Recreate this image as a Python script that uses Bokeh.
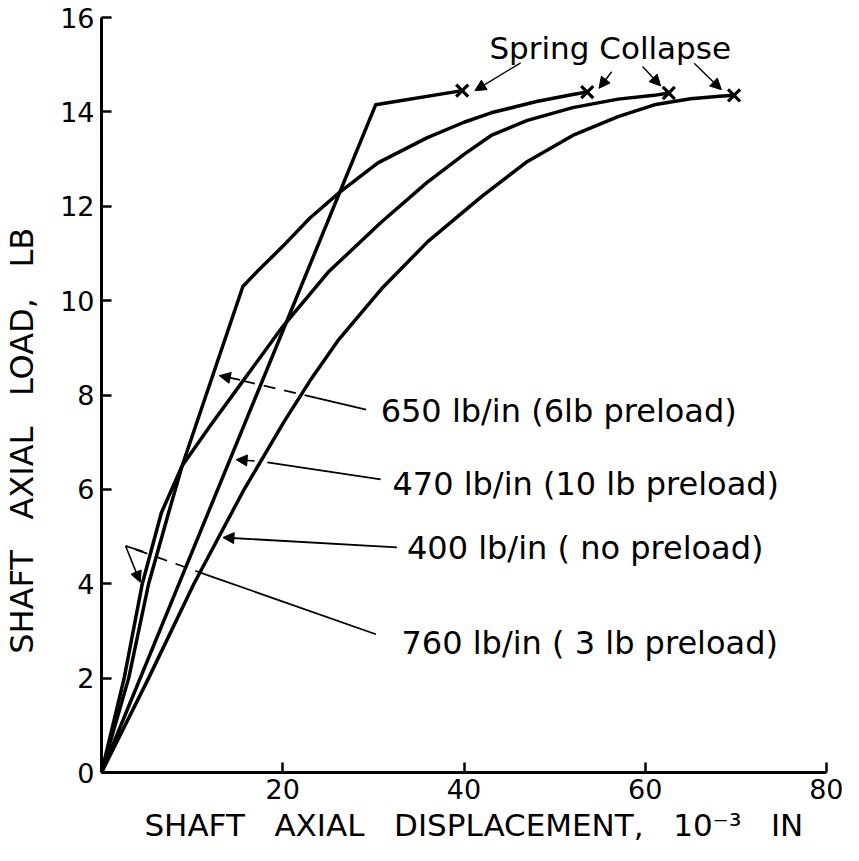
from bokeh.plotting import figure
from bokeh.models import Range1d, FixedTicker, Label, Arrow, NormalHead
from bokeh.embed import file_html
from bokeh.resources import INLINE

# ---------------- data ----------------
x_ticks = [0, 20, 40, 60, 80]
y_ticks = [0, 2, 4, 6, 8, 10, 12, 14, 16]

# 760 lb/in (3 lb preload)
disp_760 = [0, 2.5, 4.5, 6.6, 8.9, 12.0, 16.0, 20.0, 25.0, 30.8, 35.9, 40.0, 43.0, 47.0, 52.0, 57.0, 61.0, 62.6]
load_760 = [0, 2.0, 4.0, 5.5, 6.5, 7.35, 8.4, 9.45, 10.6, 11.65, 12.5, 13.1, 13.5, 13.82, 14.09, 14.27, 14.35, 14.4]

# 650 lb/in (6 lb preload)
disp_650 = [0, 3.0, 5.2, 7.4, 8.9, 15.6, 17.2, 20.0, 23.0, 26.3, 30.5, 35.9, 40.0, 43.0, 48.0, 52.0, 53.6]
load_650 = [0, 2.0, 4.0, 5.5, 6.5, 10.3, 10.62, 11.15, 11.75, 12.3, 12.92, 13.45, 13.78, 13.98, 14.22, 14.37, 14.42]

# 470 lb/in (10 lb preload)
disp_470 = [0, 30.25, 39.8]
load_470 = [0, 14.15, 14.45]

# 400 lb/in (no preload)
disp_400 = [0, 5.2, 10.2, 15.6, 20.1, 23.0, 26.2, 30.9, 36.0, 41.9, 47.0, 52.0, 57.0, 61.0, 65.0, 68.2, 69.8]
load_400 = [0, 2.0, 4.0, 5.95, 7.42, 8.3, 9.18, 10.25, 11.25, 12.2, 12.95, 13.5, 13.9, 14.15, 14.28, 14.33, 14.35]

labels = ["650 lb/in (6lb preload)", "470 lb/in (10 lb preload)",
          "400 lb/in ( no preload)", "760 lb/in ( 3 lb preload)"]

FONT = "DejaVu Sans"
INK = "black"
NB = "\u00a0"
GAP = NB * 3
x_title = NB * 2 + "SHAFT" + GAP + "AXIAL" + GAP + "DISPLACEMENT," + GAP + "10\u207b\u00b3" + GAP + "IN"
y_title = "SHAFT" + GAP + "AXIAL" + GAP + "LOAD," + GAP + "LB" + NB * 9

p = figure(width=843, height=845, x_range=Range1d(0, 80), y_range=Range1d(0, 16),
           output_backend="svg", toolbar_location=None,
           min_border_left=89, min_border_right=17, min_border_top=17, min_border_bottom=73)
p.background_fill_color = "white"
p.border_fill_color = "white"
p.outline_line_color = None
p.xgrid.visible = False
p.ygrid.visible = False

for ax in (p.xaxis[0], p.yaxis[0]):
    ax.axis_line_width = 3
    ax.axis_line_color = INK
    ax.major_tick_in = 10
    ax.major_tick_out = 0
    ax.major_tick_line_width = 2.5
    ax.major_tick_line_color = INK
    ax.minor_tick_line_color = None
    ax.major_label_text_font = FONT
    ax.major_label_text_font_size = "27px"
    ax.major_label_text_color = INK
    ax.axis_label_text_font = FONT
    ax.axis_label_text_font_style = "normal"
    ax.axis_label_text_color = INK

p.xaxis.axis_label_text_font_size = "31px"
p.yaxis.axis_label_text_font_size = "32px"
p.xaxis.ticker = FixedTicker(ticks=x_ticks)
p.yaxis.ticker = FixedTicker(ticks=y_ticks)
p.xaxis.major_label_overrides = {0: ""}
p.xaxis.major_label_standoff = 6
p.yaxis.major_label_standoff = 7
p.xaxis.axis_label_standoff = 5
p.yaxis.axis_label_standoff = 16
p.xaxis.axis_label = x_title
p.yaxis.axis_label = y_title

# ---------------- curves ----------------
series = [(disp_760, load_760), (disp_650, load_650), (disp_470, load_470), (disp_400, load_400)]
for xs, ys in series:
    p.line(xs, ys, line_width=3.5, line_color=INK, line_join="round")

# spring collapse marks at curve ends
end_x = [s[0][-1] for s in series]
end_y = [s[1][-1] for s in series]
p.scatter(end_x, end_y, marker="x", size=17, line_width=3.2, line_color=INK)

def head():
    return NormalHead(size=11, fill_color=INK, line_color=INK, line_width=1)

def arrow(x0, y0, x1, y1, w=1.6):
    p.add_layout(Arrow(end=head(), x_start=x0, y_start=y0, x_end=x1, y_end=y1,
                       line_width=w, line_color=INK))

# ---------------- leaders ----------------
# 650
p.line([29.2, 23.7], [7.69, 7.94], line_width=1.8, line_color=INK)
p.line([23.7, 15.2], [7.94, 8.32], line_width=1.8, line_color=INK, line_dash="12 9")
arrow(15.3, 8.32, 13.0, 8.41)
# 470
p.line([30.8, 18.3], [6.21, 6.57], line_width=1.8, line_color=INK)
arrow(16.9, 6.60, 14.85, 6.63)
# 400
arrow(32.6, 4.77, 13.4, 4.98, 1.8)
# 760
p.line([30.28, 11.6], [2.93, 4.19], line_width=1.8, line_color=INK)
p.line([11.6, 2.66], [4.19, 4.80], line_width=1.8, line_color=INK, line_dash="12 9")
p.line([2.66, 4.6], [4.80, 4.68], line_width=1.8, line_color=INK)
arrow(2.66, 4.80, 4.27, 4.03)

label_pos = [(30.8, 7.67), (32.1, 6.12), (33.7, 4.75), (33.1, 2.75)]
for (lx, ly), txt in zip(label_pos, labels):
    p.add_layout(Label(x=lx, y=ly, text=txt, text_font=FONT, text_font_size="32px",
                       text_baseline="middle", text_align="left", text_color=INK))

# Spring Collapse
p.add_layout(Label(x=42.8, y=15.35, text="Spring Collapse", text_font=FONT,
                   text_font_size="31px", text_baseline="middle", text_align="left",
                   text_color=INK))
arrow(46.25, 15.04, 41.2, 14.45, 1.4)
arrow(56.3, 14.85, 54.9, 14.5, 1.4)
arrow(59.7, 14.96, 61.7, 14.55, 1.4)
arrow(65.4, 15.03, 68.4, 14.47, 1.4)

open("out.html", "w").write(file_html(p, INLINE))
